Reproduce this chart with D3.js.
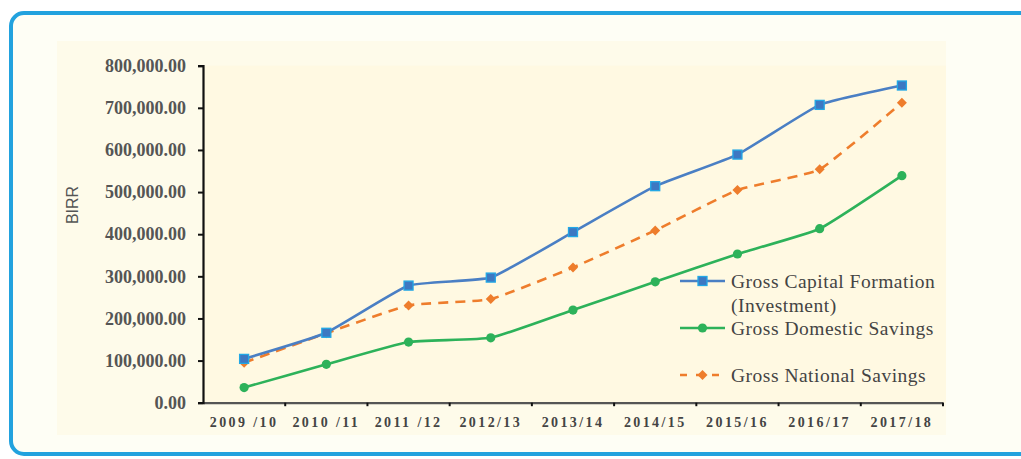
<!DOCTYPE html>
<html><head><meta charset="utf-8">
<script src="https://cdn.jsdelivr.net/npm/d3@7"></script>
<style>html,body{margin:0;padding:0;background:#fff;}svg{display:block;}</style>
</head><body>
<svg id="c" width="1021" height="459"></svg>
<script>
const categories = ["2009 /10","2010 /11","2011 /12","2012/13","2013/14","2014/15","2015/16","2016/17","2017/18"];
const gcf = [104000,166000,278000,297000,405000,514000,589000,707000,753000];
const gds = [36000,91000,144000,154000,220000,287000,353000,413000,539000];
const gns = [95000,165000,231000,246000,321000,409000,505000,554000,712000];
const yTicks = [0,100000,200000,300000,400000,500000,600000,700000,800000];
const seriesNames = ["Gross Capital Formation","(Investment)","Gross Domestic Savings","Gross National Savings"];

(function(){
const SERIF = "'Liberation Serif','Times New Roman','DejaVu Serif',serif";
const svg = d3.select("#c");
svg.append("rect").attr("x",11).attr("y",13).attr("width",1060).attr("height",441)
  .attr("rx",13).attr("fill","#fefef5").attr("stroke","#22a2de").attr("stroke-width",4);
svg.append("rect").attr("x",57).attr("y",41).attr("width",889).attr("height",394).attr("fill","#fefbea");

const pL=203, pR=943, pT=65.7, pB=402.7;
svg.append("rect").attr("x",pL).attr("y",pT).attr("width",946-pL).attr("height",pB-pT).attr("fill","#fff9e2");

const x = d3.scaleBand().domain(categories).range([pL,pR]);
const y = d3.scaleLinear().domain([0,800000]).range([pB,pT]);
const cx = d => x(d)+x.bandwidth()/2;

const xa = svg.append("g").attr("transform",`translate(0,${pB})`)
  .call(d3.axisBottom(x).tickSize(0).tickFormat(d=>d));
xa.select(".domain").attr("stroke","#555").attr("stroke-width",2.2);
xa.selectAll("text").style("font-family",SERIF).attr("font-weight","bold")
  .attr("font-size",14).attr("fill","#444").attr("letter-spacing","2.4px").attr("dy","1.55em");
const bounds = categories.map(c=>x(c)).slice(1).concat([pR]);
svg.append("g").selectAll("line").data(bounds).join("line")
  .attr("x1",d=>d).attr("x2",d=>d).attr("y1",pB).attr("y2",pB+3.5)
  .attr("stroke","#111").attr("stroke-width",2);

const ya = svg.append("g").attr("transform",`translate(${pL},0)`)
  .call(d3.axisLeft(y).tickValues(yTicks).tickSize(5).tickPadding(12)
  .tickFormat(d=>d3.format(",.2f")(d)));
ya.select(".domain").attr("stroke","#111").attr("stroke-width",2.2);
ya.selectAll(".tick line").attr("stroke","#111").attr("stroke-width",2);
ya.selectAll("text").style("font-family",SERIF).attr("font-weight","bold")
  .attr("font-size",18).attr("fill","#555");

svg.append("text").attr("transform","translate(78,205) rotate(-90)").attr("text-anchor","middle")
  .style("font-family","'Liberation Sans',Arial,sans-serif").attr("font-size",16).attr("fill","#555").text("BIRR");

const line = d3.line().x((d,i)=>cx(categories[i])).y(d=>y(d)).curve(d3.curveCardinal.tension(0.6));

svg.append("path").attr("d",line(gns)).attr("fill","none").attr("stroke","#ee7d2c")
  .attr("stroke-width",2.6).attr("stroke-dasharray","10,7");
svg.append("path").attr("d",line(gds)).attr("fill","none").attr("stroke","#2db25a").attr("stroke-width",2.6);
svg.append("path").attr("d",line(gcf)).attr("fill","none").attr("stroke","#4a7fc4").attr("stroke-width",2.6);

const dia = "M0,-5L5,0L0,5L-5,0Z";
svg.append("g").selectAll("path").data(gns).join("path")
  .attr("transform",(d,i)=>`translate(${cx(categories[i])},${y(d)})`).attr("d",dia).attr("fill","#ee7d2c");
svg.append("g").selectAll("circle").data(gds).join("circle")
  .attr("cx",(d,i)=>cx(categories[i])).attr("cy",d=>y(d)).attr("r",4.6).attr("fill","#2db25a");
svg.append("g").selectAll("rect").data(gcf).join("rect")
  .attr("x",(d,i)=>cx(categories[i])-4.5).attr("y",d=>y(d)-4.5).attr("width",9).attr("height",9)
  .attr("fill","#3d78c2").attr("stroke","#22a8e6").attr("stroke-width",1.3);

const lx1=680, lx2=725, tx=731;
const lg = svg.append("g");
lg.append("line").attr("x1",lx1).attr("x2",lx2).attr("y1",281).attr("y2",281).attr("stroke","#4a7fc4").attr("stroke-width",2.6);
lg.append("rect").attr("x",(lx1+lx2)/2-4.5).attr("y",276.5).attr("width",9).attr("height",9).attr("fill","#3d78c2").attr("stroke","#22a8e6").attr("stroke-width",1.3);
lg.append("line").attr("x1",lx1).attr("x2",lx2).attr("y1",328).attr("y2",328).attr("stroke","#2db25a").attr("stroke-width",2.6);
lg.append("circle").attr("cx",(lx1+lx2)/2).attr("cy",328).attr("r",4.6).attr("fill","#2db25a");
lg.append("line").attr("x1",lx1).attr("x2",lx2).attr("y1",375).attr("y2",375).attr("stroke","#ee7d2c").attr("stroke-width",2.6).attr("stroke-dasharray","7,9");
lg.append("path").attr("transform",`translate(${(lx1+lx2)/2},375)`).attr("d",dia).attr("fill","#ee7d2c");
const ty=[281,305,328,375];
lg.selectAll("text").data(seriesNames).join("text").attr("x",tx).attr("y",(d,i)=>ty[i]).attr("dy","0.35em")
  .style("font-family",SERIF).attr("font-size",19.5).attr("letter-spacing","0.5px").attr("fill","#444").text(d=>d);
})();
</script>
</body></html>
